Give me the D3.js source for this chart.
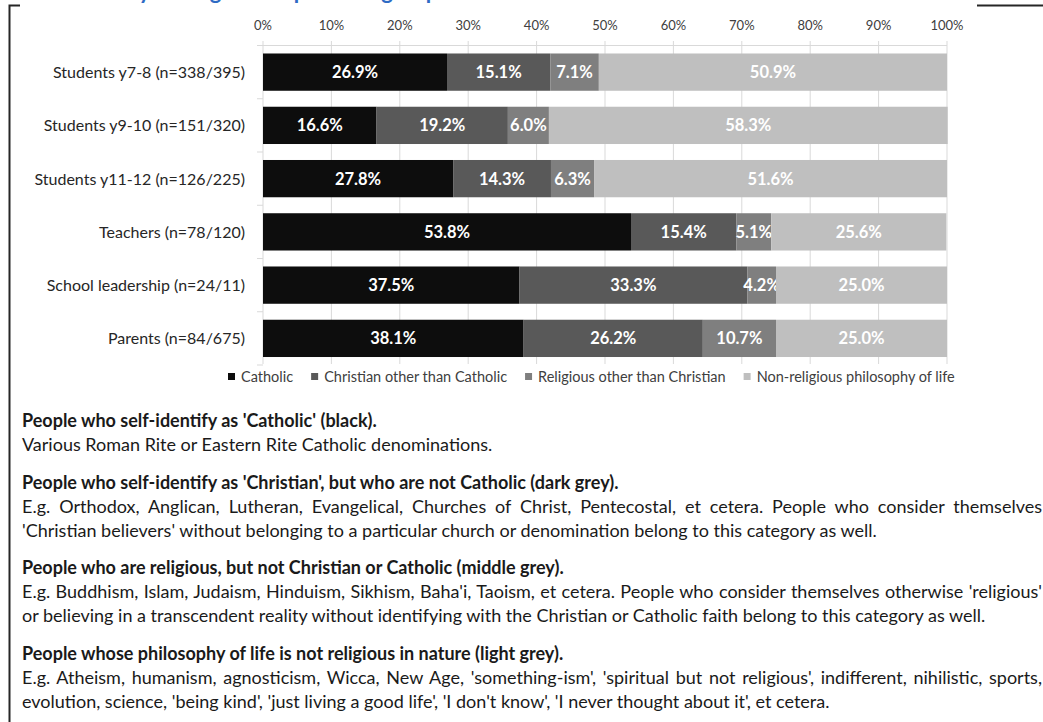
<!DOCTYPE html>
<html>
<head>
<meta charset="utf-8">
<script src="https://cdn.jsdelivr.net/npm/d3@7/dist/d3.min.js"></script>
<style>
  body { margin: 0; background: #fff; }
  svg { display: block; font-family: Lato, "Open Sans", sans-serif; }
</style>
</head>
<body>
<svg id="chart"></svg>
<script>
// data
var groups = ["Students y7-8 (n=338/395)", "Students y9-10 (n=151/320)", "Students y11-12 (n=126/225)",
              "Teachers (n=78/120)", "School leadership (n=24/11)", "Parents (n=84/675)"];
var catholic       = [26.9, 16.6, 27.8, 53.8, 37.5, 38.1];
var christianOther = [15.1, 19.2, 14.3, 15.4, 33.3, 26.2];
var religiousOther = [7.1, 6.0, 6.3, 5.1, 4.2, 10.7];
var nonReligious   = [50.9, 58.3, 51.6, 25.6, 25.0, 25.0];
var seriesNames = ["Catholic", "Christian other than Catholic", "Religious other than Christian", "Non-religious philosophy of life"];
var tickValues = [0, 10, 20, 30, 40, 50, 60, 70, 80, 90, 100];

var notes = [
  { head: "People who self-identify as 'Catholic' (black).",
    lines: ["Various Roman Rite or Eastern Rite Catholic denominations."] },
  { head: "People who self-identify as 'Christian', but who are not Catholic (dark grey).",
    lines: ["E.g. Orthodox, Anglican, Lutheran, Evangelical, Churches of Christ, Pentecostal, et cetera. People who consider themselves",
            "'Christian believers' without belonging to a particular church or denomination belong to this category as well."] },
  { head: "People who are religious, but not Christian or Catholic (middle grey).",
    lines: ["E.g. Buddhism, Islam, Judaism, Hinduism, Sikhism, Baha'i, Taoism, et cetera. People who consider themselves otherwise 'religious'",
            "or believing in a transcendent reality without identifying with the Christian or Catholic faith belong to this category as well."] },
  { head: "People whose philosophy of life is not religious in nature (light grey).",
    lines: ["E.g. Atheism, humanism, agnosticism, Wicca, New Age, 'something-ism', 'spiritual but not religious', indifferent, nihilistic, sports,",
            "evolution, science, 'being kind', 'just living a good life', 'I don't know', 'I never thought about it', et cetera."] }
];

var width = 1043, height = 722;
var colors = ["#0d0d0d", "#595959", "#7f7f7f", "#bfbfbf"];

var svg = d3.select("#chart").attr("width", width).attr("height", height);

// frame + title (cut off by the top edge, as in the source page)
svg.append("text")
  .attr("x", 62).attr("y", -1)
  .attr("fill", "#2e6bc4").style("font-size", "22px").style("font-weight", "bold")
  .text("Diversity among the respondent groups");
svg.append("path").attr("d", "M20,5.5H9.5V722").attr("fill", "none").attr("stroke", "#262626").attr("stroke-width", 2);
svg.append("path").attr("d", "M977,5.5H1043").attr("fill", "none").attr("stroke", "#262626").attr("stroke-width", 2);

var x = d3.scaleLinear().domain([0, 100]).range([263, 947]);
var y = d3.scaleBand().domain(groups).range([45.5, 365]).paddingInner(0.3).paddingOuter(0.15);

var rows = groups.map(function(g, i) {
  return { group: g, s0: catholic[i], s1: christianOther[i], s2: religiousOther[i], s3: nonReligious[i] };
});
var stacked = d3.stack().keys(["s0", "s1", "s2", "s3"])(rows);

// gridlines + top axis
var gAxis = svg.append("g");
gAxis.selectAll("line.grid").data(tickValues).enter().append("line")
  .attr("x1", d => x(d)).attr("x2", d => x(d))
  .attr("y1", 41).attr("y2", 364)
  .attr("stroke", "#d9d9d9").attr("stroke-width", 1);
gAxis.append("line").attr("x1", x(0)).attr("x2", x(100)).attr("y1", 45.5).attr("y2", 45.5)
  .attr("stroke", "#d9d9d9");
gAxis.selectAll("text").data(tickValues).enter().append("text")
  .attr("x", d => x(d)).attr("y", 30)
  .attr("text-anchor", "middle").attr("fill", "#404040").style("font-size", "13px")
  .text(d => d + "%");

// category ticks on the left
var bounds = d3.range(groups.length + 1).map(i => 45.5 + i * y.step());
svg.selectAll("line.ytick").data(bounds).enter().append("line")
  .attr("x1", x(0) - 6).attr("x2", x(0)).attr("y1", d => d).attr("y2", d => d)
  .attr("stroke", "#d9d9d9");

svg.selectAll("text.ylab").data(groups).enter().append("text")
  .attr("x", 245).attr("y", d => y(d) + y.bandwidth() / 2 + 6)
  .attr("text-anchor", "end").attr("fill", "#262626").style("font-size", "16px")
  .text(d => d);

// bars
var layers = svg.selectAll("g.layer").data(stacked).enter().append("g")
  .attr("fill", (d, i) => colors[i]);
layers.selectAll("rect").data(d => d).enter().append("rect")
  .attr("x", d => x(d[0])).attr("width", d => x(d[1]) - x(d[0]))
  .attr("y", d => y(d.data.group)).attr("height", y.bandwidth());
layers.selectAll("text").data(d => d).enter().append("text")
  .attr("x", d => (x(d[0]) + x(d[1])) / 2)
  .attr("y", d => y(d.data.group) + y.bandwidth() / 2 + 6)
  .attr("text-anchor", "middle").attr("fill", "#ffffff")
  .style("font-size", "16.5px").style("font-weight", "bold")
  .text(d => (d[1] - d[0]).toFixed(1) + "%");

// legend
var lx = 228;
seriesNames.forEach(function(name, i) {
  svg.append("rect").attr("x", lx).attr("y", 373).attr("width", 7).attr("height", 7).attr("fill", colors[i]);
  var t = svg.append("text").attr("x", lx + 13).attr("y", 381.5)
    .attr("fill", "#404040").style("font-size", "14.5px").text(name);
  lx += 13 + t.node().getComputedTextLength() + 18;
});

// notes below the chart
var ty = 427;
var right = 1042, left = 22;
notes.forEach(function(n) {
  svg.append("text").attr("x", left).attr("y", ty)
    .attr("fill", "#1a1a1a").style("font-size", "18px").style("font-weight", "bold").text(n.head);
  n.lines.forEach(function(line, j) {
    var t = svg.append("text").attr("x", left).attr("y", ty + 24 * (j + 1))
      .attr("fill", "#1a1a1a").style("font-size", "18px").text(line);
    if (j < n.lines.length - 1) {
      var w = t.node().getComputedTextLength();
      var spaces = (line.match(/ /g) || []).length;
      t.attr("word-spacing", (right - left - w) / spaces);
    }
  });
  ty += 24 * (n.lines.length + 1) + 13.5;
});
</script>
</body>
</html>
